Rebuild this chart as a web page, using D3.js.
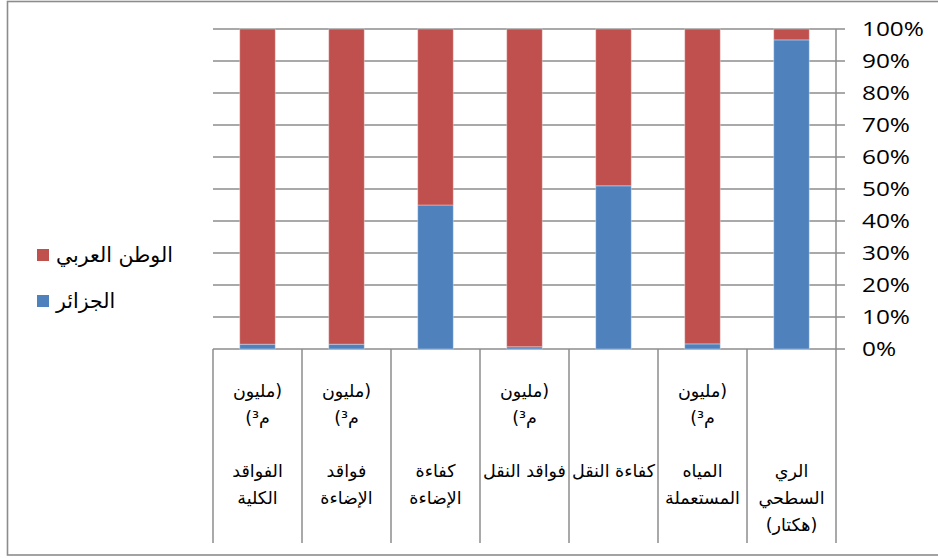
<!DOCTYPE html>
<html>
<head>
<meta charset="utf-8">
<script src="https://cdn.jsdelivr.net/npm/d3@7"></script>
<style>
  html, body { margin: 0; padding: 0; background: #fff; }
  svg { display: block; }
</style>
</head>
<body>
<svg id="chart" width="938" height="558"></svg>
<script>
// Categories, listed from right to left (axis reads right-to-left)
const categories = [
  "الري السطحي",
  "المياه المستعملة",
  "كفاءة النقل",
  "فواقد النقل",
  "كفاءة الإضاءة",
  "فواقد الإضاءة",
  "الفواقد الكلية"
];

// Label lines under each category (blank string keeps an empty row)
const categoryLines = [
  ["", "", "", "الري", "السطحي", "(هكتار)"],
  ["(مليون", "م³)", "", "المياه", "المستعملة"],
  ["", "", "", "كفاءة النقل"],
  ["(مليون", "م³)", "", "فواقد النقل"],
  ["", "", "", "كفاءة", "الإضاءة"],
  ["(مليون", "م³)", "", "فواقد", "الإضاءة"],
  ["(مليون", "م³)", "", "الفواقد", "الكلية"]
];

// Share of each category (percent)
const algeriaValues = [96.6, 1.6, 51, 0.7, 45, 1.5, 1.5];
const arabValues    = [3.4, 98.4, 49, 99.3, 55, 98.5, 98.5];

const seriesNames = ["الجزائر", "الوطن العربي"];
const seriesColors = ["#4F81BD", "#C0504D"];

const yTicks = [0, 10, 20, 30, 40, 50, 60, 70, 80, 90, 100];

const svg = d3.select("#chart");
const gridColor = "#8c8c8c";

// outer frame
svg.append("rect")
  .attr("x", 7.5).attr("y", 1.5)
  .attr("width", 940).attr("height", 553.5)
  .attr("fill", "none")
  .attr("stroke", gridColor)
  .attr("stroke-width", 1.6);

const plotLeft = 213, plotRight = 836, plotTop = 29, plotBottom = 349;

const x = d3.scaleBand()
  .domain(categories)
  .range([plotRight, plotLeft])
  .padding(0);

const y = d3.scaleLinear().domain([0, 100]).range([plotBottom, plotTop]);

// horizontal gridlines with right-side ticks
svg.append("g")
  .selectAll("line")
  .data(yTicks)
  .join("line")
  .attr("x1", plotLeft).attr("x2", plotRight + 9)
  .attr("y1", d => y(d)).attr("y2", d => y(d))
  .attr("stroke", gridColor)
  .attr("stroke-width", 1.5);

// right axis line, continuing down through the label area
svg.append("line")
  .attr("x1", plotRight).attr("x2", plotRight)
  .attr("y1", plotTop).attr("y2", 543)
  .attr("stroke", gridColor).attr("stroke-width", 1.5);

// category separators below the axis
svg.append("g")
  .selectAll("line")
  .data(categories.slice(1).map(c => x(c) + x.bandwidth()).concat([plotLeft]))
  .join("line")
  .attr("x1", d => d).attr("x2", d => d)
  .attr("y1", plotBottom).attr("y2", 543)
  .attr("stroke", gridColor).attr("stroke-width", 1.5);

// y-axis labels (slightly widened face)
const labelStretch = 1.25;
svg.append("g")
  .attr("transform", `scale(${labelStretch},1)`)
  .selectAll("text")
  .data(yTicks)
  .join("text")
  .attr("x", 862 / labelStretch)
  .attr("y", d => y(d) + 7)
  .attr("font-family", "'Open Sans', sans-serif")
  .attr("font-size", 19.5)
  .attr("fill", "#000")
  .text(d => d + "%");

// stacked bars
const rows = categories.map((c, i) => ({ cat: c, algeria: algeriaValues[i], arab: arabValues[i] }));
const stack = d3.stack().keys(["algeria", "arab"]);
const stacked = stack(rows);
const barW = x.bandwidth() * 0.4;

svg.append("g")
  .selectAll("g")
  .data(stacked)
  .join("g")
  .attr("fill", (d, i) => seriesColors[i])
  .selectAll("rect")
  .data(d => d)
  .join("rect")
  .attr("x", d => x(d.data.cat) + (x.bandwidth() - barW) / 2)
  .attr("y", d => y(d[1]))
  .attr("width", barW)
  .attr("height", d => y(d[0]) - y(d[1]))
  .attr("stroke", "rgba(255,255,255,0.35)")
  .attr("stroke-width", 1);

// category labels
const labelGroups = svg.append("g")
  .selectAll("g")
  .data(categories)
  .join("g")
  .attr("transform", d => `translate(${x(d) + x.bandwidth() / 2},0)`);

labelGroups.selectAll("text")
  .data((d, i) => categoryLines[i].map((t, j) => ({ t, j })))
  .join("text")
  .attr("x", 0)
  .attr("y", d => 397 + d.j * 26.8)
  .attr("text-anchor", "middle")
  .attr("direction", "rtl")
  .attr("font-family", "'DejaVu Sans', sans-serif")
  .attr("font-size", 17.5)
  .attr("fill", "#000")
  .text(d => d.t);

// legend (red series listed first)
const legend = svg.append("g");
const legendOrder = [1, 0];
legendOrder.forEach((s, k) => {
  const ly = 255 + k * 46;
  legend.append("rect")
    .attr("x", 37).attr("y", ly - 6)
    .attr("width", 12).attr("height", 12)
    .attr("fill", seriesColors[s]);
  legend.append("text")
    .attr("x", 56).attr("y", ly + 7)
    .attr("direction", "ltr")
    .attr("font-family", "'DejaVu Sans', sans-serif")
    .attr("font-size", 20.5)
    .attr("fill", "#000")
    .text(seriesNames[s]);
});
</script>
</body>
</html>
